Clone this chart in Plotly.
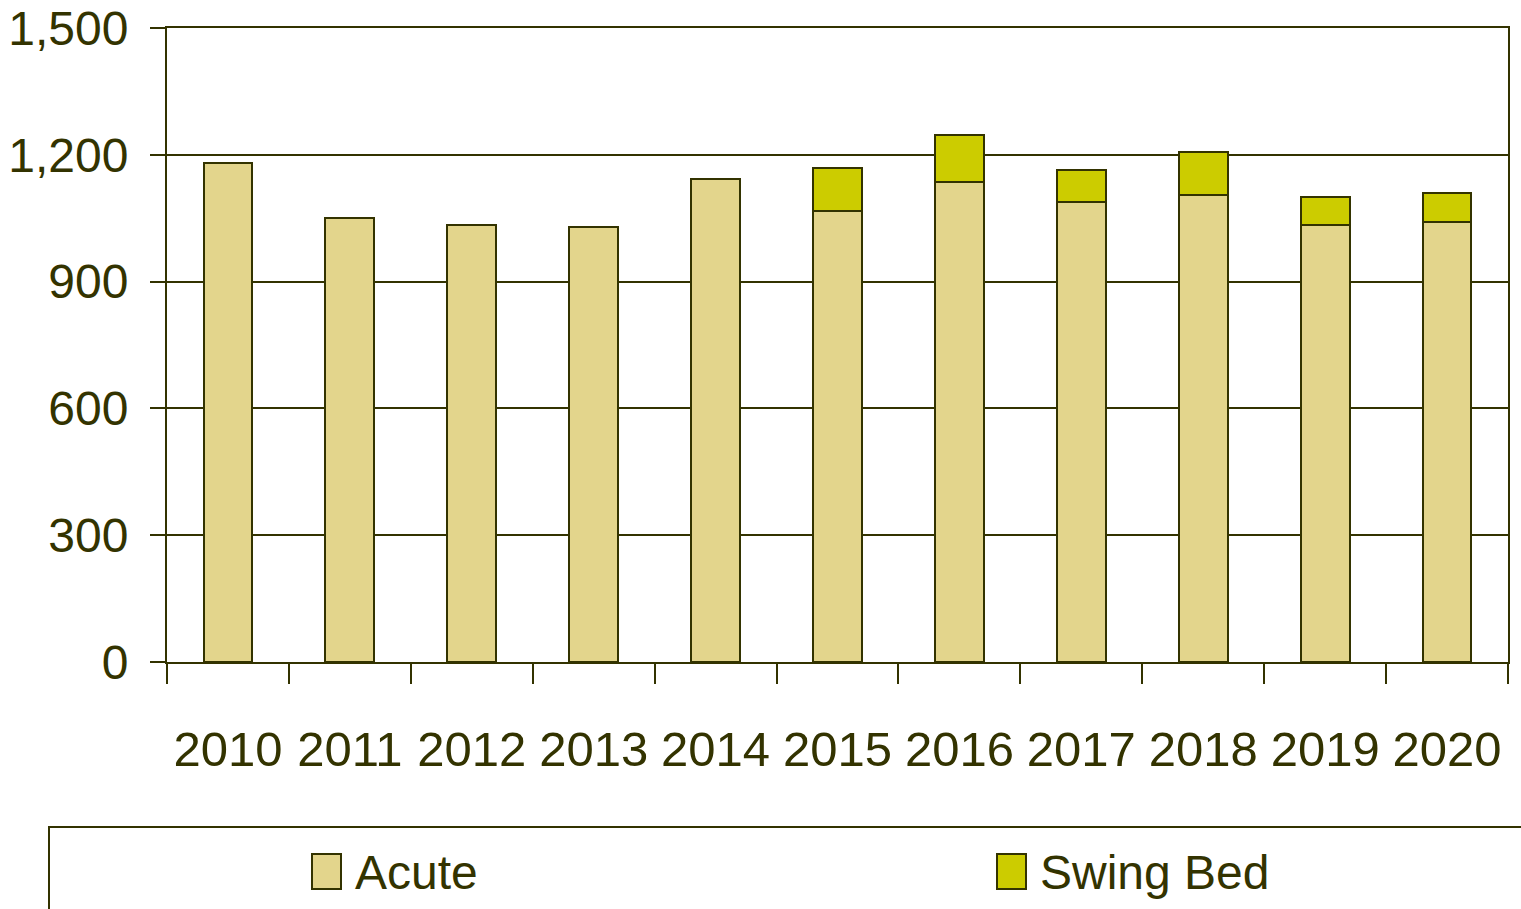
import plotly.graph_objects as go

years = ["2010", "2011", "2012", "2013", "2014", "2015", "2016", "2017", "2018", "2019", "2020"]
acute = [1180, 1050, 1034, 1029, 1143, 1067, 1136, 1088, 1105, 1034, 1041]
swing_bed = [0, 0, 0, 0, 0, 102, 111, 76, 102, 66, 69]

ink = "#333300"
acute_color = "#E3D58C"
swing_color = "#CCCC00"
font_family = "Liberation Sans Narrow, Arial Narrow, Liberation Sans, Arial, sans-serif"

W, H = 1521, 909
L, R, T, B = 167, 13, 28, 247


def px_x(x):
    return (x - L) / (W - L - R)


def px_y(y):
    return (H - B - y) / (H - T - B)


fig = go.Figure()
fig.add_trace(go.Bar(x=years, y=acute, name="Acute",
                     marker=dict(color=acute_color, line=dict(color=ink, width=2))))
fig.add_trace(go.Bar(x=years, y=swing_bed, name="Swing Bed",
                     marker=dict(color=swing_color, line=dict(color=ink, width=2))))

fig.update_layout(
    barmode="stack",
    bargap=0.6,
    width=W, height=H,
    margin=dict(l=L, r=R, t=T, b=B),
    plot_bgcolor="white", paper_bgcolor="white",
    showlegend=False,
    font=dict(family=font_family, color=ink, size=48),
)
fig.update_xaxes(
    type="category", tickson="boundaries", ticks="outside", ticklen=20,
    tickwidth=2, tickcolor=ink, showline=True, linecolor=ink, linewidth=2,
    mirror=True, showgrid=False, ticklabelstandoff=43, automargin=False,
    tickangle=0, tickfont=dict(size=49),
)
fig.update_yaxes(
    range=[0, 1500], dtick=300, tickformat=",", ticks="outside", ticklen=15,
    tickwidth=2, tickcolor=ink, showline=True, linecolor=ink, linewidth=2,
    mirror=True, showgrid=True, gridcolor=ink, gridwidth=2, zeroline=False,
    ticklabelstandoff=12, automargin=False, tickfont=dict(size=48),
)

# legend box (runs off the bottom/right edge like the original)
fig.add_shape(type="rect", xref="paper", yref="paper",
              x0=px_x(49), x1=px_x(1540), y0=px_y(827), y1=px_y(930),
              line=dict(color=ink, width=2), fillcolor="rgba(0,0,0,0)")

legend_items = [("Acute", acute_color, 312), ("Swing Bed", swing_color, 997)]
for label, color, x0 in legend_items:
    fig.add_shape(type="rect", xref="paper", yref="paper",
                  x0=px_x(x0), x1=px_x(x0 + 29), y0=px_y(889), y1=px_y(854),
                  line=dict(color=ink, width=2), fillcolor=color)
    fig.add_annotation(xref="paper", yref="paper", x=px_x(x0 + 41), y=px_y(872),
                       text=label, showarrow=False, xanchor="left", yanchor="middle",
                       font=dict(size=48, color=ink, family=font_family))

fig.write_html("out.html", config={"displayModeBar": False},
               post_script="document.body.style.margin='0';")
